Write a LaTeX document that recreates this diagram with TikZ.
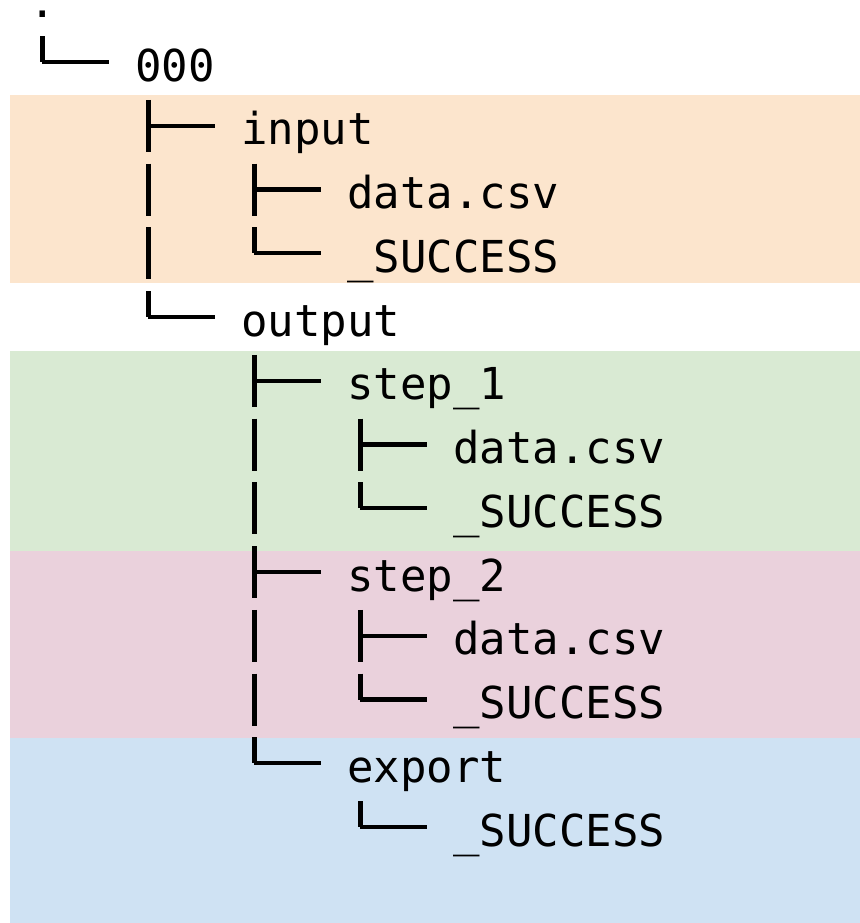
\documentclass[tikz,border=0pt]{standalone}
\usepackage{fontspec}
\setmonofont{DejaVu Sans Mono}
\usetikzlibrary{calc,backgrounds}
\definecolor{inColor}{HTML}{FCE5CD}
\definecolor{stepOneColor}{HTML}{D9EAD3}
\definecolor{stepTwoColor}{HTML}{EAD1DC}
\definecolor{exportColor}{HTML}{CFE2F3}
\tikzset{entry/.style={anchor=base west, inner sep=0pt, font=\ttfamily\fontsize{22pt}{26pt}\selectfont}}
\tikzset{stem/.style={line width=2.5pt, dash pattern=on 26pt off 5.875pt}}
\tikzset{branch/.style={line width=2.1pt}}

\begin{document}
\begin{tikzpicture}[x=0.5pt, y=-0.5pt]
	\useasboundingbox (0,0) rectangle (860,923);
	% coloured bands
	\fill[inColor] (10,95) rectangle (860,283);
	\fill[stepOneColor] (10,351) rectangle (860,551);
	\fill[stepTwoColor] (10,551) rectangle (860,738);
	\fill[exportColor] (10,738) rectangle (860,923);
	% entries, one per line
	\node[entry] at (28.85,17.25) (root) {.};
	\node[entry] at (134.85,81) (n000) {000};
	\node[entry] at (240.85,144.75) (input) {input};
	\node[entry] at (346.85,208.5) (inputdata) {data.csv};
	\node[entry] at (346.85,272.25) (inputsucc) {\_SUCCESS};
	\node[entry] at (240.85,336) (output) {output};
	\node[entry] at (346.85,399.75) (step1) {step\_1};
	\node[entry] at (452.85,463.5) (s1data) {data.csv};
	\node[entry] at (452.85,527.25) (s1succ) {\_SUCCESS};
	\node[entry] at (346.85,591) (step2) {step\_2};
	\node[entry] at (452.85,654.75) (s2data) {data.csv};
	\node[entry] at (452.85,718.5) (s2succ) {\_SUCCESS};
	\node[entry] at (346.85,782.25) (export) {export};
	\node[entry] at (452.85,846) (exsucc) {\_SUCCESS};
	% stems: parent down to its last child
	\foreach \p/\l in {root/n000, n000/output, input/inputsucc, output/export, step1/s1succ, step2/s2succ, export/exsucc}
		\draw[stem] ($(\p.base west)+(13.15,18.75)$) -- ($(\l.base west)+(-92.85,-19)$);
	% branches into each child
	\foreach \c in {n000, input, inputdata, inputsucc, output, step1, s1data, s1succ, step2, s2data, s2succ, export, exsucc}
		\draw[branch] ($(\c.base west)+(-92.85,-19)$) -- ($(\c.base west)+(-26.35,-19)$);
\end{tikzpicture}
\end{document}
